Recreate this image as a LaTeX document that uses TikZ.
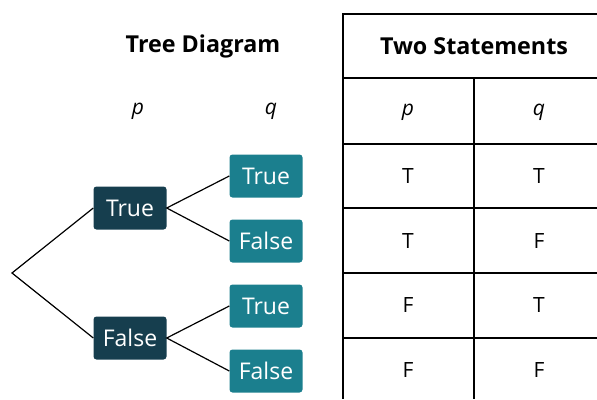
\documentclass[tikz,border=0pt]{standalone}
\usepackage{fontspec}
\setmainfont{Open Sans}
\usetikzlibrary{positioning}
\definecolor{pdark}{HTML}{163E4E}
\definecolor{qteal}{HTML}{1B7F8E}

\begin{document}
\begin{tikzpicture}[x=1pt,y=-1pt,
  pbox/.style={fill=pdark,text=white,rounded corners=3pt,minimum width=73pt,minimum height=43pt,inner sep=0pt,font=\fontsize{23}{27}\selectfont},
  qbox/.style={pbox,fill=qteal},
  heading/.style={font=\fontsize{23.3}{27}\selectfont\bfseries},
  cell/.style={font=\fontsize{21}{25}\selectfont},
  branch/.style={line width=1.2pt},
  rule/.style={line width=1.4pt}]
\useasboundingbox (0,0) rectangle (597,399);
% tree
\node[heading] (treetitle) at (203,46) {Tree Diagram};
\node[cell] (tp) at (138,111) {\textit{p}};
\node[cell] (tq) at (271,111) {\textit{q}};
\coordinate (root) at (12,273);
\node[pbox] (pT) at (130,208) {True};
\node[pbox] (pF) at (130,338) {False};
\foreach \n/\y/\lab in {TT/176/True,TF/241/False,FT/306/True,FF/371/False}
  \node[qbox] (q\n) at (266,\y) {\lab};
\draw[branch] (pT.west)--(root)--(pF.west);
\draw[branch] (qTT.west)--(pT.east)--(qTF.west);
\draw[branch] (qFT.west)--(pF.east)--(qFF.west);
% table
\draw[rule] (597,14)--(343,14)--(343,399);
\foreach \y in {78,144,208,273,338}
  \draw[rule] (343,\y)--(597,\y);
\draw[rule] (474,78)--(474,399);
\node[heading] (tabtitle) at (474,46) {Two Statements};
\node[cell] (hp) at (408,112) {\textit{p}};
\node[cell] (hq) at (539,112) {\textit{q}};
\foreach \y/\a/\b [count=\i] in {176/T/T,241/T/F,305/F/T,370/F/F}{
  \node[cell] (a\i) at (408,\y) {\a};
  \node[cell] (b\i) at (539,\y) {\b};
}
\end{tikzpicture}
\end{document}
